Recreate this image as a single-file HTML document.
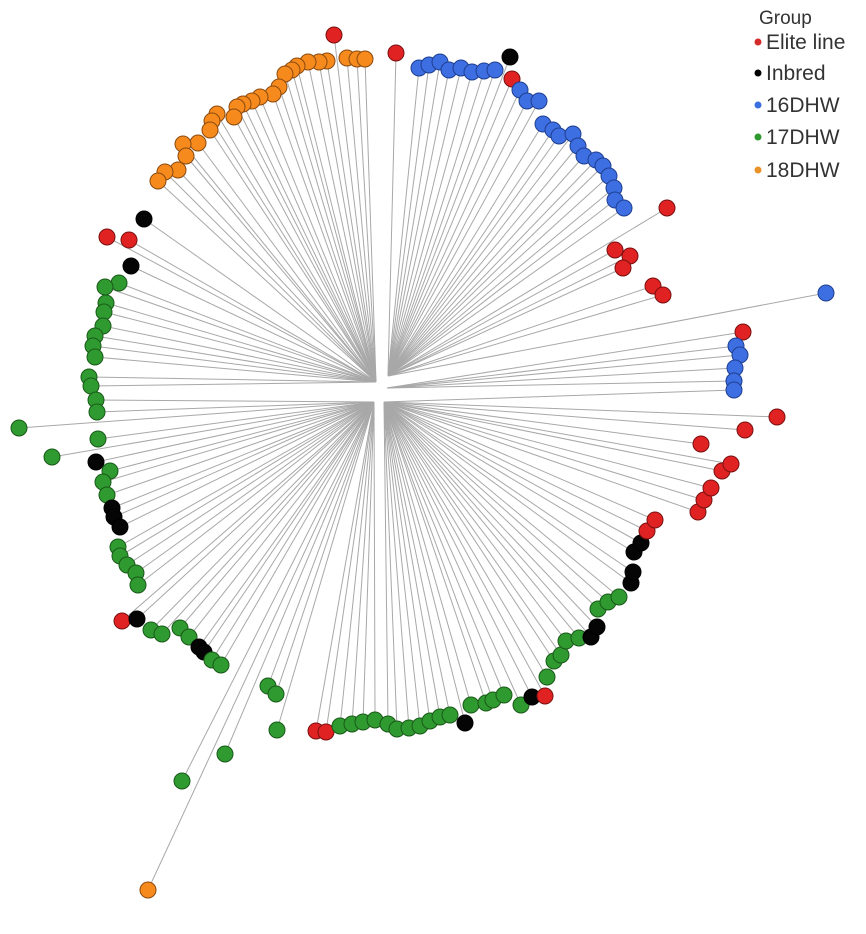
<!DOCTYPE html>
<html><head><meta charset="utf-8"><style>
html,body{margin:0;padding:0;background:#fff;}
svg{display:block;}
</style></head><body>
<svg id="s" width="866" height="934" xmlns="http://www.w3.org/2000/svg">
<g id="lines" stroke="#a8a8a8" stroke-width="1"></g>
<g id="dots" stroke-width="1"></g>
<g font-family="Liberation Sans, sans-serif" fill="#333">
<text x="759" y="24" font-size="19">Group</text>
<circle cx="758" cy="42" r="3.5" fill="#d42a2a"/><text x="766" y="49" font-size="21">Elite line</text>
<circle cx="758" cy="73" r="3.5" fill="#000"/><text x="766" y="80" font-size="21">Inbred</text>
<circle cx="758" cy="105" r="3.5" fill="#3b6fe0"/><text x="766" y="112" font-size="21">16DHW</text>
<circle cx="758" cy="137" r="3.5" fill="#2e9a2e"/><text x="766" y="144" font-size="21">17DHW</text>
<circle cx="758" cy="170" r="3.5" fill="#e8922a"/><text x="766" y="177" font-size="21">18DHW</text>
</g>
</svg>
<script>
var C={r:["#e02222","#7a1010"],k:["#050505","#000"],b:["#3d6fe3","#1f3f8f"],g:["#2f9a2f","#1a5a1a"],o:["#f78a1c","#8a4a10"]};
var P=[
["r",334,35],["o",347,58],["o",357,59],["o",365,59],["o",327,61],["o",319,62],["o",308,62],["o",297,66],["o",292,70],["o",285,74],["o",279,87],["o",273,94],["o",260,97],["o",252,101],["o",243,104],["o",237,107],["o",234,117],["o",217,114],["o",212,121],["o",210,130],["o",198,143],["o",183,144],["o",186,156],["o",178,170],["o",165,172],["o",158,181],
["k",144,219],["r",107,237],["r",129,240],["k",131,266],
["g",119,283],["g",105,287],["g",106,303],["g",104,312],["g",103,326],["g",95,336],["g",93,346],["g",95,357],["g",89,377],["g",91,386],["g",96,400],["g",97,412],["g",19,428],["g",98,439],["g",52,457],
["k",96,462],["g",110,471],["g",103,482],["g",107,495],["k",112,508],["k",114,517],["k",120,527],["g",118,547],["g",120,556],["g",127,565],["g",136,573],["g",138,585],
["r",122,621],["k",137,619],["g",151,630],["g",162,634],["g",180,628],["g",189,637],["k",199,647],["k",204,652],["g",212,660],["g",221,665],["g",268,686],["g",276,694],["g",277,730],["r",316,731],["r",326,732],["g",225,754],["g",182,781],["o",148,890],
["g",340,726],["g",352,724],["g",363,722],["g",375,720],["g",388,724],["g",397,729],["g",409,728],["g",420,726],["g",430,721],["g",440,717],["g",450,715],["k",465,723],["g",471,705],["g",486,703],["g",493,700],["g",504,695],["g",521,705],["k",532,697],["r",545,696],
["g",547,677],["g",554,661],["g",561,655],["g",566,641],["g",579,638],["k",591,637],["k",597,627],["g",598,609],["g",608,602],["g",619,597],["k",631,583],["k",633,572],["k",634,552],["k",641,543],["r",647,531],["r",655,520],
["r",698,512],["r",704,500],["r",711,488],["r",722,471],["r",731,464],["r",701,444],["r",745,430],["r",777,417],
["r",396,53],["b",419,68],["b",429,65],["b",440,62],["b",449,70],["b",461,68],["b",472,72],["b",484,71],["b",495,70],["k",510,57],["r",512,79],
["b",520,90],["b",527,101],["b",539,101],["b",543,124],["b",553,130],["b",559,136],["b",573,134],["b",578,146],["b",584,156],["b",596,160],["b",603,166],["b",609,176],["b",614,188],["b",615,200],["b",624,208],
["r",667,208],["r",615,250],["r",630,256],["r",623,268],["r",653,286],["r",663,295],["b",826,293],["r",743,332],["b",736,346],["b",740,355],["b",735,368],["b",734,381],["b",734,390]
];
var NS="http://www.w3.org/2000/svg",L=document.getElementById("lines"),D=document.getElementById("dots");
function hub(x,y){
 if(y<390&&x<385) return [376,382];
 if(y<390&&x>=385) return (y<300?[388,376]:[387,388]);
 if(x<380) return [374,402];
 return [384,402];
}
P.forEach(function(p){
 var h=hub(p[1],p[2]);
 var l=document.createElementNS(NS,"line");
 l.setAttribute("x1",h[0]);l.setAttribute("y1",h[1]);l.setAttribute("x2",p[1]);l.setAttribute("y2",p[2]);
 L.appendChild(l);
});
P.forEach(function(p){
 var c=document.createElementNS(NS,"circle");
 c.setAttribute("cx",p[1]);c.setAttribute("cy",p[2]);c.setAttribute("r",8);
 c.setAttribute("fill",C[p[0]][0]);c.setAttribute("stroke",C[p[0]][1]);
 D.appendChild(c);
});
</script>
</body></html>
